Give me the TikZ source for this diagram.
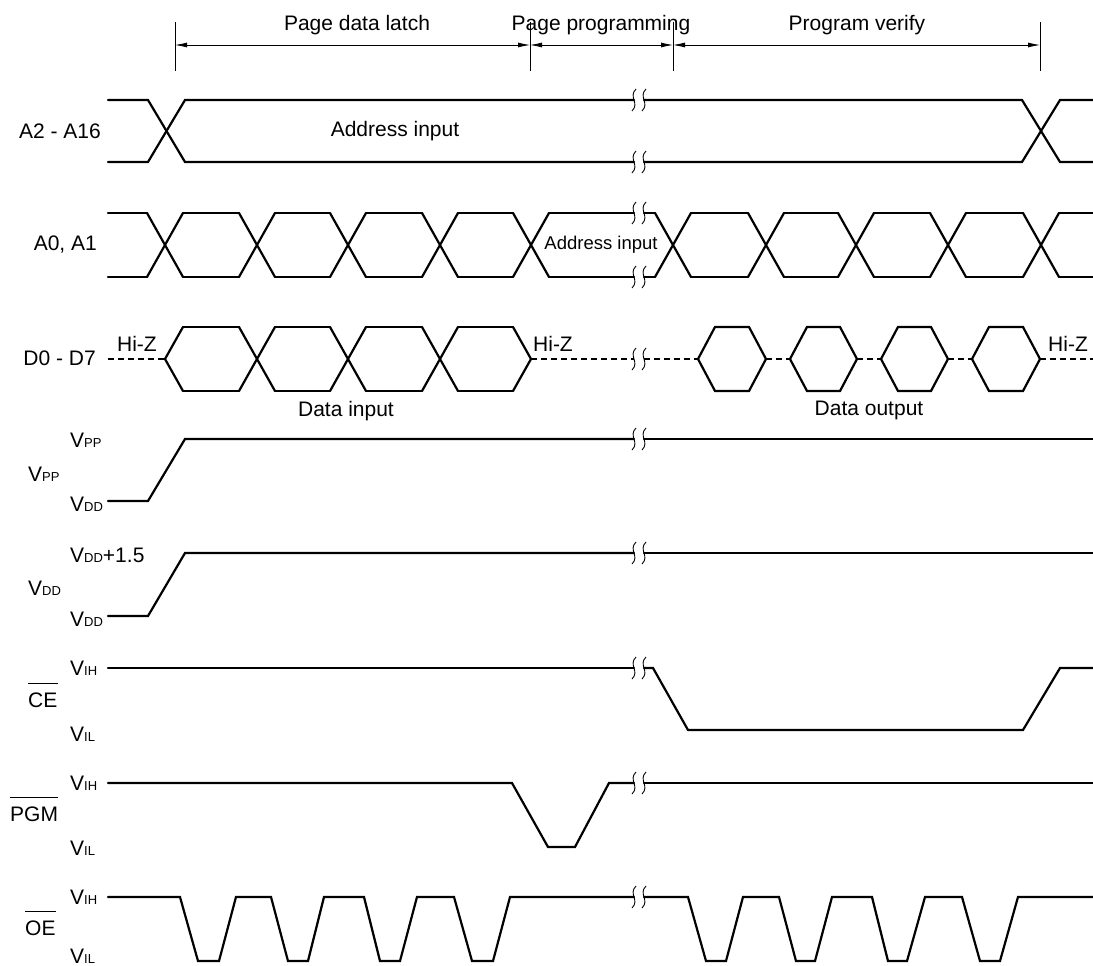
\documentclass[tikz,border=0pt]{standalone}
\usepackage{fontspec}
\setmainfont{Liberation Sans}
\usetikzlibrary{arrows.meta}
\newcommand\vlab[1]{V{\fontsize{13}{14}\selectfont #1}}
\newcommand\bkm[2]{\draw[brkline] (#1+2,#2-11) .. controls (#1-6,#2-3) and (#1+6,#2+3) .. (#1-2,#2+11);}
\begin{document}
\begin{tikzpicture}[x=1pt,y=-1pt,
  sig/.style={line width=2.2pt, line cap=round, line join=miter},
  hiz/.style={line width=2.2pt, dash pattern=on 6pt off 4pt},
  brkline/.style={line width=0.9pt},
  vline/.style={line width=0.9pt},
  dimarrow/.style={line width=0.8pt, {Latex[length=12pt,width=5pt]}-{Latex[length=12pt,width=5pt]}},
  lbl/.style={font=\fontsize{21}{25}\selectfont, inner sep=0pt},
  slbl/.style={font=\fontsize{18.5}{22}\selectfont, inner sep=0pt}]
\useasboundingbox (0,0) rectangle (1093,966);
% ---- phase markers
\foreach \n/\x in {m1/175, m2/530, m3/673, m4/1040}{
  \coordinate (\n t) at (\x,22);
  \coordinate (\n b) at (\x,71);
  \coordinate (\n) at (\x,45);
  \draw[vline] (\n t) -- (\n b);
}
\draw[dimarrow] (m1) -- (m2);
\draw[dimarrow] (m2) -- (m3);
\draw[dimarrow] (m3) -- (m4);
\node[lbl] (ph1) at (357,25) {Page data latch};
\node[lbl] (ph2) at (601,25) {Page programming};
\node[lbl] (ph3) at (857,25) {Program verify};
% ---- A2 - A16
\node[lbl, anchor=east] (la2) at (101,131) {A2 - A16};
\draw[sig] (108,100) -- (148,100) -- (185,162) -- (634,162);
\draw[sig] (644,162) -- (1022,162) -- (1060,100) -- (1093,100);
\draw[sig] (108,162) -- (148,162) -- (185,100) -- (634,100);
\draw[sig] (644,100) -- (1022,100) -- (1060,162) -- (1093,162);
\node[lbl] (ai1) at (395,131) {Address input};
% ---- A0, A1
\node[lbl, anchor=east] (la0) at (97,245) {A0, A1};
\foreach \c in {165,257,348,440,531,673,766,856,948,1041}{
  \draw[sig] (\c-18,213) -- (\c+18,277) (\c-18,277) -- (\c+18,213);
}
\foreach \a/\b in {108/147, 183/239, 275/330, 366/422, 458/513, 549/634, 644/655, 691/748, 784/838, 874/930, 966/1023, 1059/1093}{
  \draw[sig] (\a,213) -- (\b,213) (\a,277) -- (\b,277);
}
\node[slbl] (ai2) at (601,245) {Address input};
% ---- D0 - D7
\node[lbl, anchor=east] (ld) at (96,358) {D0 - D7};
\draw[hiz] (108,359) -- (165,359);
\draw[sig] (183,327) -- (165,359) -- (183,391);
\foreach \c in {257,348,440}{
  \draw[sig] (\c-18,327) -- (\c+18,391) (\c-18,391) -- (\c+18,327);
}
\foreach \a/\b in {183/239, 275/330, 366/422, 458/513}{
  \draw[sig] (\a,327) -- (\b,327) (\a,391) -- (\b,391);
}
\draw[sig] (513,327) -- (531,359) -- (513,391);
\draw[hiz] (531,359) -- (634,359);
\draw[hiz] (644,359) -- (698,359);
\foreach \l/\r in {698/766, 790/857, 881/948, 972/1040}{
  \draw[sig] (\l,359) -- (\l+17,327) -- (\r-17,327) -- (\r,359) -- (\r-17,391) -- (\l+17,391) -- cycle;
}
\draw[hiz] (766,359) -- (790,359);
\draw[hiz] (857,359) -- (881,359);
\draw[hiz] (948,359) -- (972,359);
\draw[hiz] (1040,359) -- (1093,359);
\node[lbl] (hz1) at (137,344) {Hi-Z};
\node[lbl] (hz2) at (553,344) {Hi-Z};
\node[lbl] (hz3) at (1068,344) {Hi-Z};
\node[lbl] (din) at (346,411) {Data input};
\node[lbl] (dout) at (869,410) {Data output};
% ---- VPP
\node[lbl, anchor=west] (vpph) at (70,440) {\vlab{PP}};
\node[lbl, anchor=west] (vppn) at (28,474) {\vlab{PP}};
\node[lbl, anchor=west] (vppl) at (70,504) {\vlab{DD}};
\draw[sig] (108,501) -- (148,501) -- (185,439) -- (634,439);
\draw[sig] (644,439) -- (1093,439);
% ---- VDD
\node[lbl, anchor=west] (vddh) at (70,555) {\vlab{DD}+1.5};
\node[lbl, anchor=west] (vddn) at (28,588) {\vlab{DD}};
\node[lbl, anchor=west] (vddl) at (70,619) {\vlab{DD}};
\draw[sig] (108,616) -- (148,616) -- (185,553) -- (634,553);
\draw[sig] (644,553) -- (1093,553);
% ---- CE
\node[lbl, anchor=west] (ceh) at (70,668) {\vlab{IH}};
\node[lbl, anchor=west] (cen) at (28,700) {CE};
\node[lbl, anchor=west] (cel) at (70,734) {\vlab{IL}};
\draw[line width=1pt] ([yshift=9pt]cen.north west) -- ([yshift=9pt]cen.north east);
\draw[sig] (108,668) -- (634,668);
\draw[sig] (644,668) -- (653,668) -- (688,730) -- (1023,730) -- (1060,668) -- (1093,668);
% ---- PGM
\node[lbl, anchor=west] (pgh) at (70,783) {\vlab{IH}};
\node[lbl, anchor=west] (pgn) at (10,814) {PGM};
\node[lbl, anchor=west] (pgl) at (70,848) {\vlab{IL}};
\draw[line width=1pt] ([yshift=9pt]pgn.north west) -- ([yshift=9pt]pgn.north east);
\draw[sig] (108,783) -- (512,783) -- (548,847) -- (575,847) -- (609,783) -- (634,783);
\draw[sig] (644,783) -- (1093,783);
% ---- OE
\node[lbl, anchor=west] (oeh) at (70,897) {\vlab{IH}};
\node[lbl, anchor=west] (oen) at (25,928) {OE};
\node[lbl, anchor=west] (oel) at (70,956) {\vlab{IL}};
\draw[line width=1pt] ([yshift=9pt]oen.north west) -- ([yshift=9pt]oen.north east);
\draw[sig] (108,897) -- (180,897) -- (198,961) -- (219,961) -- (236,897) -- (271,897) -- (288,961) -- (308,961) -- (324,897) -- (364,897) -- (380,961) -- (400,961) -- (417,897) -- (454,897) -- (472,961) -- (493,961) -- (510,897) -- (634,897);
\draw[sig] (644,897) -- (688,897) -- (706,961) -- (726,961) -- (743,897) -- (779,897) -- (796,961) -- (815,961) -- (832,897) -- (872,897) -- (888,961) -- (907,961) -- (925,897) -- (962,897) -- (980,961) -- (1000,961) -- (1018,897) -- (1093,897);
% ---- break marks
\foreach \y in {100,162,213,277,359,439,553,668,783,897}{
  \bkm{634}{\y}
  \bkm{644}{\y}
}
\end{tikzpicture}
\end{document}
